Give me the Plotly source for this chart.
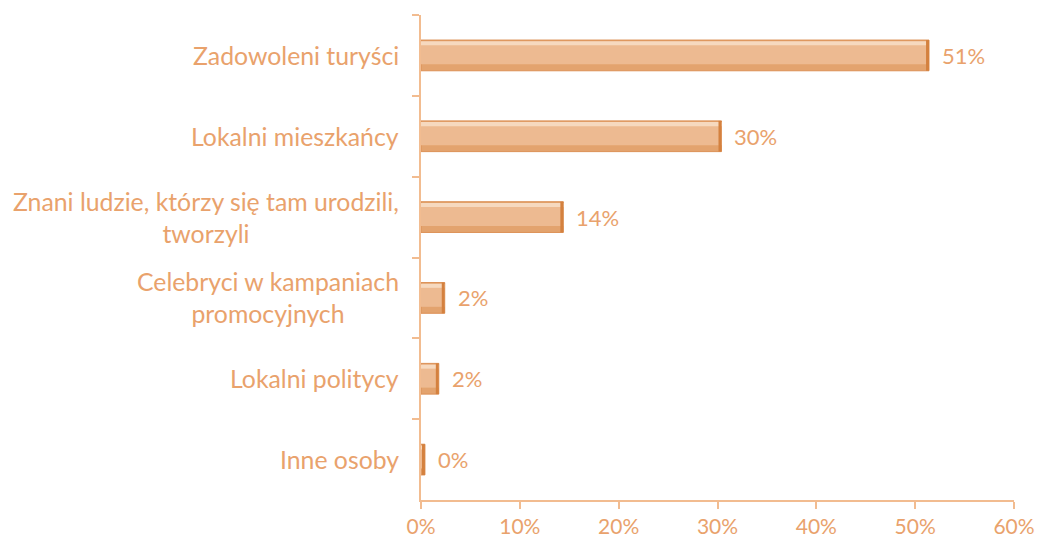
import plotly.graph_objects as go

categories = [
    "Zadowoleni turyści",
    "Lokalni mieszkańcy",
    "Znani ludzie, którzy się tam urodzili,<br>tworzyli",
    "Celebryci w kampaniach<br>promocyjnych",
    "Lokalni politycy",
    "Inne osoby",
]
shares = [51.4, 30.4, 14.4, 2.4, 1.8, 0.4]
x_ticks = [0, 10, 20, 30, 40, 50, 60]
x_tick_labels = ["0%", "10%", "20%", "30%", "40%", "50%", "60%"]

ORANGE_TEXT = "#E9A26C"
AXIS = "#F2BC90"
FONT = "Lato"

fig = go.Figure()

# base bar with darker rim
fig.add_trace(go.Bar(
    y=categories, x=shares, orientation="h", width=0.38,
    marker=dict(color="#E3A36E", line=dict(color="#DC9055", width=1)),
    hoverinfo="skip", showlegend=False,
))
# lighter body
fig.add_trace(go.Bar(
    y=categories, x=shares, orientation="h", width=0.28, offset=-0.17,
    marker=dict(color="#EDBA91", line=dict(width=0)),
    hoverinfo="skip", showlegend=False,
))
# top highlight strip
fig.add_trace(go.Bar(
    y=categories, x=shares, orientation="h", width=0.05, offset=-0.175,
    marker=dict(color="#F6D9BF", line=dict(width=0)),
    hoverinfo="skip", showlegend=False,
))
# darker cap at the end of each bar
cap = [min(0.3, v) for v in shares]
fig.add_trace(go.Bar(
    y=categories, x=cap, base=[v - c for v, c in zip(shares, cap)],
    orientation="h", width=0.38,
    marker=dict(color="#D4813F", line=dict(width=0)),
    hoverinfo="skip", showlegend=False,
))

annotations = []
for cat, val in zip(categories, shares):
    annotations.append(dict(
        x=val, y=cat, xref="x", yref="y", text=f"{val:.0f}%",
        showarrow=False, xanchor="left", xshift=11,
        font=dict(family=FONT, size=22, color=ORANGE_TEXT),
    ))
    annotations.append(dict(
        x=0, y=cat, xref="paper", yref="y", text=cat,
        showarrow=False, xanchor="right", xshift=-20, align="center",
        font=dict(family=FONT, size=24.8, color=ORANGE_TEXT),
    ))

fig.update_layout(
    width=1039, height=543,
    margin=dict(l=421, r=25, t=15, b=43),
    paper_bgcolor="white", plot_bgcolor="white",
    barmode="overlay",
    annotations=annotations,
    xaxis=dict(
        range=[0, 60], tickvals=x_ticks, ticktext=x_tick_labels,
        showgrid=False, zeroline=False, automargin=False,
        showline=True, linecolor=AXIS, linewidth=1.5,
        ticks="outside", ticklen=7, tickcolor=AXIS, tickwidth=1.5,
        tickfont=dict(family=FONT, size=21, color=ORANGE_TEXT),
    ),
    yaxis=dict(
        autorange="reversed", showticklabels=False,
        showgrid=False, zeroline=False, automargin=False,
        showline=True, linecolor=AXIS, linewidth=1.5,
        ticks="outside", ticklen=7, tickcolor=AXIS, tickwidth=1.5,
        tickson="boundaries",
    ),
)

fig.write_html("out.html")
